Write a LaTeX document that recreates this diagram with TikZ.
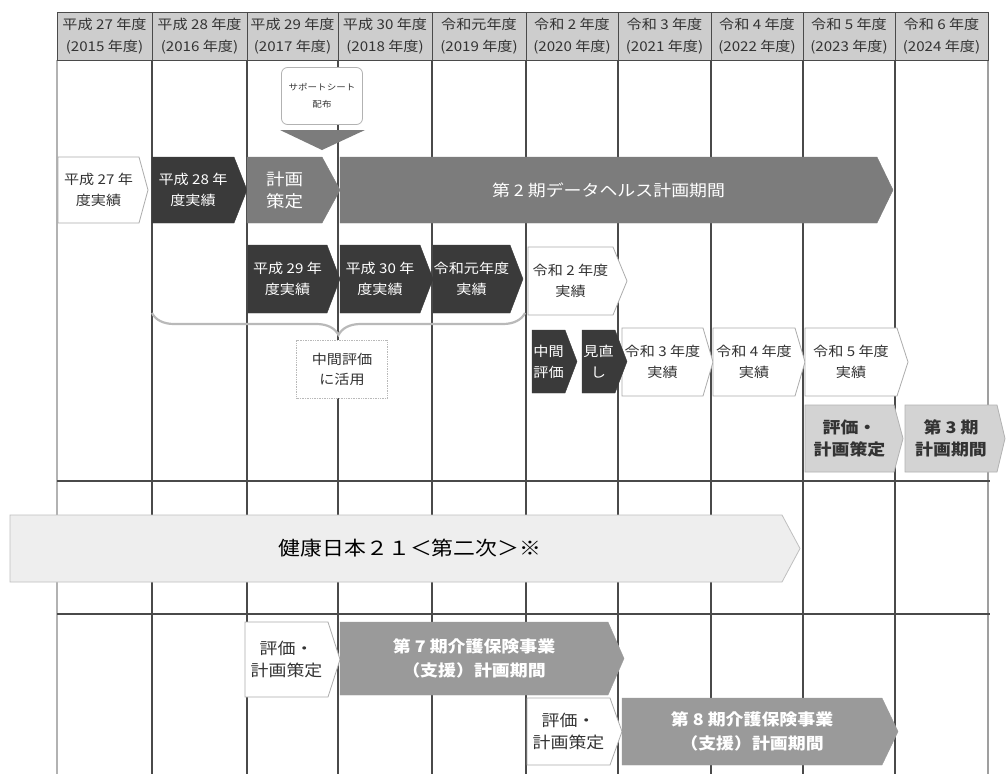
\documentclass[tikz,border=0pt]{standalone}
\usepackage{fontspec}
\setmainfont{Noto Sans CJK JP}[FakeStretch=1.12]
\usetikzlibrary{decorations.pathreplacing}
\definecolor{dk}{HTML}{3A3A3A}
\definecolor{md}{HTML}{7C7C7C}
\definecolor{lt}{HTML}{D3D3D3}
\definecolor{hd}{HTML}{CDCDCD}
\definecolor{ln}{HTML}{4A4A4A}
\definecolor{kg}{HTML}{9A9A9A}
\definecolor{kh}{HTML}{EEEEEE}
\definecolor{tx}{HTML}{333333}
\newcommand\mychev[9]{%
  \pgfmathsetmacro\cxb{#3-#6}%
  \pgfmathsetmacro\cym{(#4+#5)/2}%
  \pgfmathsetmacro\ccx{(#2+#3-#6)/2}%
  \path[#7] (#2,#4) -- (\cxb,#4) -- (#3,\cym) -- (\cxb,#5) -- (#2,#5) -- cycle;
  \node[#8, name=#1] at (\ccx,\cym) {#9};
}
\tikzset{
  colline/.style={draw=ln, line width=1.1pt},
  rowline/.style={draw=ln, line width=1.1pt},
  hdcell/.style={draw=ln, fill=hd, line width=1pt, text=tx, align=center, inner sep=0pt,
    font=\fontsize{13.5}{22}\selectfont, minimum height=48pt},
  chevW/.style={fill=white, draw=gray!65, line width=0.8pt},
  chevD/.style={fill=dk, draw=dk},
  chevM/.style={fill=md, draw=md},
  chevL/.style={fill=lt, draw=gray!60, line width=0.8pt},
  chevK/.style={fill=kg, draw=kg},
  chevH/.style={fill=kh, draw=gray!50, line width=0.8pt},
  tW/.style={text=tx, align=center, inner sep=0pt, font=\fontsize{13.5}{21}\selectfont},
  tD/.style={text=white, align=center, inner sep=0pt, font=\fontsize{13.5}{21}\selectfont},
  tDb/.style={text=white, align=center, inner sep=0pt, font=\fontsize{16.5}{22}\selectfont},
  tBig/.style={text=white, align=center, inner sep=0pt, font=\fontsize{16}{20}\selectfont},
  tL/.style={text=tx, align=center, inner sep=0pt, font=\fontsize{16}{22}\bfseries\selectfont},
  tLb/.style={text=tx, align=center, inner sep=0pt, font=\fontsize{16}{22}\selectfont},
  tK/.style={text=white, align=center, inner sep=0pt, font=\fontsize{16}{24}\bfseries\selectfont},
  tKen/.style={text=black, align=center, inner sep=0pt, xshift=14pt, font=\fontsize{19.5}{24}\selectfont},
  callbox/.style={draw=gray!60, fill=white, rounded corners=6pt, line width=0.8pt,
    minimum width=81pt, minimum height=57pt, align=center, inner sep=0pt,
    text=tx, font=\fontsize{8.5}{17}\selectfont},
  usebox/.style={draw=gray!55, fill=white, line width=0.7pt, densely dotted,
    minimum width=91pt, minimum height=58pt, align=center, inner sep=0pt,
    text=tx, font=\fontsize{13.5}{20}\selectfont},
  bracestyle/.style={draw=gray!55, line width=2.2pt, decorate,
    decoration={brace, mirror, amplitude=22pt}}
}
\begin{document}
\begin{tikzpicture}[x=1pt,y=-1pt]
\useasboundingbox (0,0) rectangle (1008,774);
\fill[white] (0,0) rectangle (1008,774);
% column lines
\foreach \x in {152,247,338,432,526,618,711,803,895}{
  \draw[colline] (\x,60) -- (\x,774);
}
\draw[colline, draw=gray!60] (57,60) -- (57,774);
\draw[colline, draw=gray!75] (988,60) -- (988,774);
% horizontal band lines
\draw[rowline] (57,481) -- (990,481);
\draw[rowline] (57,614) -- (990,614);
% header
\foreach \i/\xa/\xb/\ta/\tb in {
  1/57/152/平成 27 年度/{(2015 年度)},
  2/152/247/平成 28 年度/{(2016 年度)},
  3/247/338/平成 29 年度/{(2017 年度)},
  4/338/432/平成 30 年度/{(2018 年度)},
  5/432/526/令和元年度/{(2019 年度)},
  6/526/618/令和 2 年度/{(2020 年度)},
  7/618/711/令和 3 年度/{(2021 年度)},
  8/711/803/令和 4 年度/{(2022 年度)},
  9/803/895/令和 5 年度/{(2023 年度)},
  10/895/988/令和 6 年度/{(2024 年度)}}{
  \pgfmathsetmacro\hx{(\xa+\xb)/2}
  \pgfmathsetmacro\hw{\xb-\xa}
  \node[hdcell, minimum width=\hw pt, name=h\i] at (\hx,36) {\ta\\\tb};
}
% callout
\node[callbox, name=sheet] at (322,96) {サポートシート\\配布};
\fill[md] (280,130) -- (365,130) -- (322,150) -- cycle;
% row 1
\mychev{r27}{58}{148}{157}{223}{9}{chevW}{tW}{平成 27 年\\度実績}
\mychev{r28}{152}{247}{157}{223}{13}{chevD}{tD}{平成 28 年\\度実績}
\mychev{plan}{247}{340}{157}{223}{18}{chevM}{tDb}{計画\\策定}
\mychev{dh2}{340}{893}{157}{223}{16}{chevM}{tBig}{第 2 期データヘルス計画期間}
% row 2
\mychev{r29}{248}{340}{245}{313}{13}{chevD}{tD}{平成 29 年\\度実績}
\mychev{r30}{340}{433}{245}{313}{13}{chevD}{tD}{平成 30 年\\度実績}
\mychev{r01}{433}{523}{245}{313}{13}{chevD}{tD}{令和元年度\\実績}
\mychev{r02}{528}{627}{247}{315}{14}{chevW}{tW}{令和 2 年度\\実績}
% brace and usage box
\draw[bracestyle] (152,313) -- (525,313);
\node[usebox, name=use] at (342,369) {中間評価\\に活用};
% row 3
\mychev{r03}{622}{713}{328}{396}{10}{chevW}{tW}{令和 3 年度\\実績}
\mychev{r04}{713}{805}{328}{396}{10}{chevW}{tW}{令和 4 年度\\実績}
\mychev{r05}{805}{908}{328}{396}{11}{chevW}{tW}{令和 5 年度\\実績}
\mychev{mid}{532}{577}{330}{393}{12}{chevD}{tD}{中間\\評価}
\mychev{rev}{582}{627}{330}{393}{12}{chevD}{tD}{見直\\し}
% row 4
\mychev{ev3}{805}{903}{405}{472}{9}{chevL}{tL}{評価・\\計画策定}
\mychev{p3}{905}{1005}{405}{472}{8}{chevL}{tL}{第 3 期\\計画期間}
% kenko nippon 21
\mychev{kenko}{10}{800}{515}{582}{18}{chevH}{tKen}{健康日本２１＜第二次＞※}
% kaigo rows
\mychev{ev7}{245}{340}{622}{697}{12}{chevW}{tLb}{評価・\\計画策定}
\mychev{k7}{340}{624}{622}{695}{16}{chevK}{tK}{第 7 期介護保険事業\\（支援）計画期間}
\mychev{ev8}{527}{622}{698}{765}{12}{chevW}{tLb}{評価・\\計画策定}
\mychev{k8}{622}{898}{698}{765}{16}{chevK}{tK}{第 8 期介護保険事業\\（支援）計画期間}
\end{tikzpicture}
\end{document}
